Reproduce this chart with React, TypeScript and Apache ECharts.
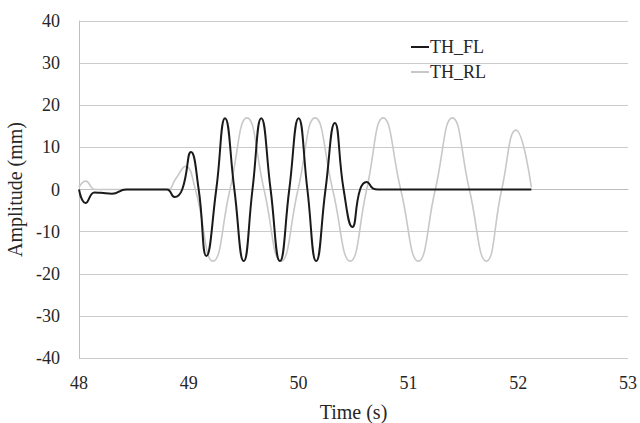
import React, { useEffect, useRef } from "react";
import * as echarts from "echarts";

const flTime = [48.0, 48.06, 48.14, 48.2, 48.3, 48.43, 48.8, 48.87, 48.94, 49.02, 49.09, 49.16, 49.25, 49.33, 49.415, 49.5, 49.58, 49.66, 49.745, 49.83, 49.915, 50.0, 50.08, 50.16, 50.245, 50.33, 50.41, 50.49, 50.56, 50.62, 50.68, 50.72, 52.12];
const flAmp = [0, -3.2, -0.7, -0.8, -1.0, 0, 0, -1.8, 0, 8.9, 0, -15.8, 0, 16.9, 0, -17, 0, 16.9, 0, -17, 0, 16.9, 0, -17, 0, 15.8, 0, -8.9, 0, 1.8, 0.2, 0, 0];

const rlTime = [48.0, 48.06, 48.15, 48.8, 48.88, 48.97, 49.06, 49.22, 49.375, 49.53, 49.685, 49.84, 49.995, 50.15, 50.31, 50.47, 50.62, 50.77, 50.93, 51.09, 51.245, 51.4, 51.555, 51.71, 51.85, 51.98, 52.12];
const rlAmp = [0.5, 2.0, 0, 0, 2.5, 5.5, 0, -17, 0, 17, 0, -17, 0, 17, 0, -17, 0, 17, 0, -17, 0, 17, 0, -17, 0, 14.1, 0.5];

const seriesNames = ["TH_FL", "TH_RL"];
const yTicks = { min: -40, max: 40, step: 10 };
const xTicks = { min: 48, max: 53, step: 1 };

const FONT = "Liberation Serif";
const TEXT = "#262626";

export default function App() {
  const ref = useRef<HTMLDivElement>(null);
  useEffect(() => {
    if (!ref.current) return;
    const chart = echarts.init(ref.current, undefined, { renderer: "svg" });
    const pair = (t: number[], v: number[]) => t.map((x, i) => [x, v[i]]);
    chart.setOption({
      animation: false,
      backgroundColor: "#ffffff",
      textStyle: { fontFamily: FONT },
      grid: { left: 79, right: 12, top: 21, bottom: 65, containLabel: false, outerBoundsMode: "none" },
      legend: {
        orient: "vertical",
        left: 406,
        top: 33,
        itemWidth: 18,
        itemHeight: 2,
        itemGap: 7,
        icon: "rect",
        textStyle: { fontFamily: FONT, fontSize: 18, color: TEXT, padding: [0, 0, 0, -4] },
        data: seriesNames,
      },
      xAxis: {
        type: "value",
        min: xTicks.min,
        max: xTicks.max,
        interval: xTicks.step,
        name: "Time (s)",
        nameLocation: "middle",
        nameGap: 44,
        nameTextStyle: { fontFamily: FONT, fontSize: 20, color: TEXT },
        axisLine: { show: true, lineStyle: { color: "#bfbfbf", width: 1 } },
        axisTick: { show: false },
        splitLine: { show: false },
        axisLabel: { fontFamily: FONT, fontSize: 18, color: TEXT, margin: 16 },
      },
      yAxis: {
        type: "value",
        min: yTicks.min,
        max: yTicks.max,
        interval: yTicks.step,
        name: "Amplitude (mm)",
        nameLocation: "middle",
        nameRotate: 90,
        nameGap: 47,
        nameTextStyle: { fontFamily: FONT, fontSize: 20, color: TEXT },
        axisLine: { show: true, lineStyle: { color: "#bfbfbf", width: 1 } },
        axisTick: { show: false },
        splitLine: { show: true, lineStyle: { color: "#cccccc", width: 1 } },
        axisLabel: { fontFamily: FONT, fontSize: 18, color: TEXT, margin: 19 },
      },
      series: [
        {
          name: seriesNames[0],
          type: "line",
          data: pair(flTime, flAmp),
          smooth: 0.5,
          showSymbol: false,
          z: 3,
          lineStyle: { color: "#1a1a1a", width: 2 },
          itemStyle: { color: "#1a1a1a" },
        },
        {
          name: seriesNames[1],
          type: "line",
          data: pair(rlTime, rlAmp),
          smooth: 0.5,
          showSymbol: false,
          z: 2,
          lineStyle: { color: "#c8c8c8", width: 1.6 },
          itemStyle: { color: "#c8c8c8" },
        },
      ],
    });
    return () => chart.dispose();
  }, []);
  return (
    <div
      ref={ref}
      style={{ position: "fixed", left: 0, top: 0, width: 640, height: 423, background: "#fff" }}
    />
  );
}
